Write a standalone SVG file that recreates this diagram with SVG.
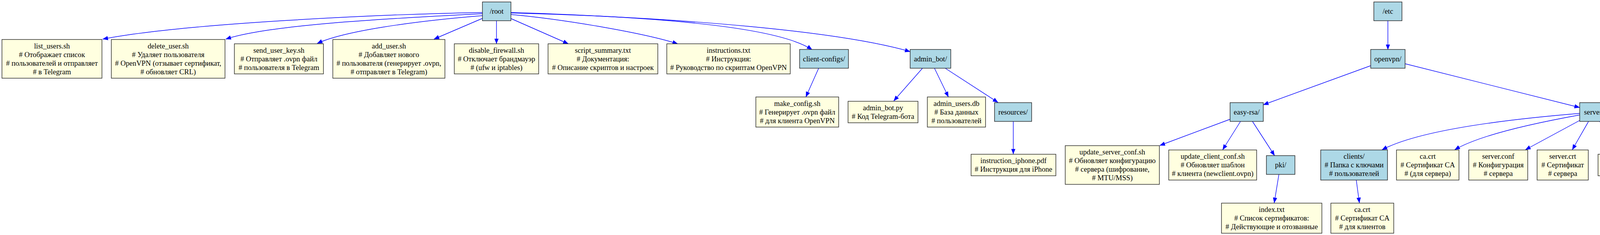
<svg xmlns="http://www.w3.org/2000/svg" width="5003" height="601" viewBox="0 0 5003 601">
<style>
.f{fill:#ffffe0;stroke:#222;stroke-width:1.4}
.d{fill:#add8e6;stroke:#222;stroke-width:1.4}
text{font-family:"Liberation Serif","Times New Roman",serif;font-size:18.67px;text-anchor:middle;fill:#000}
.e{fill:none;stroke:#0000ff;stroke-width:1.4}
</style>
<defs>
<marker id="ah" markerUnits="userSpaceOnUse" markerWidth="14" markerHeight="11" viewBox="0 0 14 11" refX="13.5" refY="5.5" orient="auto">
<path d="M0,0 L14,5.5 L0,11 z" fill="#0000ff"/>
</marker>
</defs>
<rect width="5003" height="601" fill="#fff"/>
<g id="edges">
<path class="e" marker-end="url(#ah)" d="M1235,32 C1000,36 480,58 263,100"/>
<path class="e" marker-end="url(#ah)" d="M1235,35 C1050,45 700,60 578,100"/>
<path class="e" marker-end="url(#ah)" d="M1235,40 C1050,55 880,80 812,111"/>
<path class="e" marker-end="url(#ah)" d="M1235,47 L1111,100"/>
<path class="e" marker-end="url(#ah)" d="M1271,53 L1271,112"/>
<path class="e" marker-end="url(#ah)" d="M1307,47 L1455,112"/>
<path class="e" marker-end="url(#ah)" d="M1307,37 C1450,50 1650,85 1735,112"/>
<path class="e" marker-end="url(#ah)" d="M1307,32 C1750,45 2000,75 2079,127"/>
<path class="e" marker-end="url(#ah)" d="M1307,33 C1750,45 2150,80 2330,132"/>
<path class="e" marker-end="url(#ah)" d="M2096,174 L2063,248"/>
<path class="e" marker-end="url(#ah)" d="M2362,174 L2288,258"/>
<path class="e" marker-end="url(#ah)" d="M2392,174 L2428,248"/>
<path class="e" marker-end="url(#ah)" d="M2419,174 L2555,262"/>
<path class="e" marker-end="url(#ah)" d="M2594,310 L2594,394"/>
<path class="e" marker-end="url(#ah)" d="M3553,53 L3553,127"/>
<path class="e" marker-end="url(#ah)" d="M3509,168 L3234,268"/>
<path class="e" marker-end="url(#ah)" d="M3597,163 L4044,275"/>
<path class="e" marker-end="url(#ah)" d="M3149,305 L2969,372"/>
<path class="e" marker-end="url(#ah)" d="M3176,310 L3130,383"/>
<path class="e" marker-end="url(#ah)" d="M3206,310 L3263,398"/>
<path class="e" marker-end="url(#ah)" d="M3274,446 L3262,519"/>
<path class="e" marker-end="url(#ah)" d="M4044,290 C3800,310 3620,340 3538,383"/>
<path class="e" marker-end="url(#ah)" d="M4044,294 C3900,320 3780,350 3724,383"/>
<path class="e" marker-end="url(#ah)" d="M4044,308 L3905,383"/>
<path class="e" marker-end="url(#ah)" d="M4067,310 L4025,383"/>
<path class="e" marker-end="url(#ah)" d="M4095,310 L4143,394"/>
<path class="e" marker-end="url(#ah)" d="M4117,303 L4267,383"/>
<path class="e" marker-end="url(#ah)" d="M4117,293 C4300,310 4420,355 4466,383"/>
<path class="e" marker-end="url(#ah)" d="M4117,290 C4380,300 4580,355 4631,383"/>
<path class="e" marker-end="url(#ah)" d="M4117,288 C4450,292 4720,340 4822,383"/>
<path class="e" marker-end="url(#ah)" d="M3472,460 L3480,519"/>
</g>
<g id="root"><rect class="d" x="1235" y="5" width="73" height="48"/><text x="1271.5" y="35">/root</text></g>
<g id="etc"><rect class="d" x="3517" y="5" width="72" height="48"/><text x="3553" y="35">/etc</text></g>
<g id="list_users"><rect class="f" x="5" y="101" width="256" height="99"/><text x="133" y="123.5">list_users.sh</text><text x="133" y="145.5"># Отображает список</text><text x="133" y="167.5"># пользователей и отправляет</text><text x="133" y="189.5"># в Telegram</text></g>
<g id="delete_user"><rect class="f" x="285" y="101" width="291" height="99"/><text x="430.5" y="123.5">delete_user.sh</text><text x="430.5" y="145.5"># Удаляет пользователя</text><text x="430.5" y="167.5"># OpenVPN (отзывает сертификат,</text><text x="430.5" y="189.5"># обновляет CRL)</text></g>
<g id="send_user_key"><rect class="f" x="600" y="112" width="228" height="77"/><text x="714" y="134.5">send_user_key.sh</text><text x="714" y="156.5"># Отправляет .ovpn файл</text><text x="714" y="178.5"># пользователя в Telegram</text></g>
<g id="add_user"><rect class="f" x="852" y="101" width="287" height="99"/><text x="995.5" y="123.5">add_user.sh</text><text x="995.5" y="145.5"># Добавляет нового</text><text x="995.5" y="167.5"># пользователя (генерирует .ovpn,</text><text x="995.5" y="189.5"># отправляет в Telegram)</text></g>
<g id="disable_firewall"><rect class="f" x="1163" y="112" width="216" height="77"/><text x="1271" y="134.5">disable_firewall.sh</text><text x="1271" y="156.5"># Отключает брандмауэр</text><text x="1271" y="178.5"># (ufw и iptables)</text></g>
<g id="script_summary"><rect class="f" x="1403" y="112" width="281" height="77"/><text x="1543.5" y="134.5">script_summary.txt</text><text x="1543.5" y="156.5"># Документация:</text><text x="1543.5" y="178.5"># Описание скриптов и настроек</text></g>
<g id="instructions"><rect class="f" x="1707" y="112" width="316" height="77"/><text x="1865" y="134.5">instructions.txt</text><text x="1865" y="156.5"># Инструкция:</text><text x="1865" y="178.5"># Руководство по скриптам OpenVPN</text></g>
<g id="client_configs"><rect class="d" x="2047" y="126.5" width="125" height="48"/><text x="2109.5" y="156.5">client-configs/</text></g>
<g id="admin_bot"><rect class="d" x="2330" y="126.5" width="104" height="48"/><text x="2382" y="156.5">admin_bot/</text></g>
<g id="openvpn"><rect class="d" x="3509" y="126.5" width="88" height="48"/><text x="3553" y="156.5">openvpn/</text></g>
<g id="make_config"><rect class="f" x="1935" y="248" width="212" height="77"/><text x="2041" y="270.5">make_config.sh</text><text x="2041" y="292.5"># Генерирует .ovpn файл</text><text x="2041" y="314.5"># для клиента OpenVPN</text></g>
<g id="admin_bot_py"><rect class="f" x="2171" y="259" width="179" height="55"/><text x="2260.5" y="281.5">admin_bot.py</text><text x="2260.5" y="303.5"># Код Telegram-бота</text></g>
<g id="admin_users_db"><rect class="f" x="2374" y="248" width="149" height="77"/><text x="2448.5" y="270.5">admin_users.db</text><text x="2448.5" y="292.5"># База данных</text><text x="2448.5" y="314.5"># пользователей</text></g>
<g id="resources"><rect class="d" x="2546" y="262.5" width="95" height="48"/><text x="2593.5" y="292.5">resources/</text></g>
<g id="easy_rsa"><rect class="d" x="3149" y="262.5" width="85" height="48"/><text x="3191.5" y="292.5">easy-rsa/</text></g>
<g id="server"><rect class="d" x="4044" y="262.5" width="73" height="48"/><text x="4080.5" y="292.5">server/</text></g>
<g id="instruction_iphone"><rect class="f" x="2486" y="394.5" width="217" height="55"/><text x="2594.5" y="417">instruction_iphone.pdf</text><text x="2594.5" y="439"># Инструкция для iPhone</text></g>
<g id="update_server_conf"><rect class="f" x="2727" y="372.5" width="241" height="99"/><text x="2847.5" y="395">update_server_conf.sh</text><text x="2847.5" y="417"># Обновляет конфигурацию</text><text x="2847.5" y="439"># сервера (шифрование,</text><text x="2847.5" y="461"># MTU/MSS)</text></g>
<g id="update_client_conf"><rect class="f" x="2992" y="383.5" width="225" height="77"/><text x="3104.5" y="406">update_client_conf.sh</text><text x="3104.5" y="428"># Обновляет шаблон</text><text x="3104.5" y="450"># клиента (newclient.ovpn)</text></g>
<g id="pki"><rect class="d" x="3242" y="398" width="73" height="48"/><text x="3278.5" y="428">pki/</text></g>
<g id="clients"><rect class="d" x="3381" y="383.5" width="171" height="77"/><text x="3466.5" y="406">clients/</text><text x="3466.5" y="428"># Папка с ключами</text><text x="3466.5" y="450"># пользователей</text></g>
<g id="ca_crt"><rect class="f" x="3575" y="383.5" width="160" height="77"/><text x="3655" y="406">ca.crt</text><text x="3655" y="428"># Сертификат CA</text><text x="3655" y="450"># (для сервера)</text></g>
<g id="server_conf"><rect class="f" x="3760" y="383.5" width="151" height="77"/><text x="3835.5" y="406">server.conf</text><text x="3835.5" y="428"># Конфигурация</text><text x="3835.5" y="450"># сервера</text></g>
<g id="server_crt"><rect class="f" x="3935" y="383.5" width="131" height="77"/><text x="4000.5" y="406">server.crt</text><text x="4000.5" y="428"># Сертификат</text><text x="4000.5" y="450"># сервера</text></g>
<g id="server_key"><rect class="f" x="4091" y="394.5" width="143" height="55"/><text x="4162.5" y="417">server.key</text><text x="4162.5" y="439"># Ключ сервера</text></g>
<g id="dh_pem"><rect class="f" x="4259" y="383.5" width="175" height="77"/><text x="4346.5" y="406">dh.pem</text><text x="4346.5" y="428"># Параметры</text><text x="4346.5" y="450"># Диффи-Хеллмана</text></g>
<g id="ta_key"><rect class="f" x="4458" y="383.5" width="139" height="77"/><text x="4527.5" y="406">ta.key</text><text x="4527.5" y="428"># Ключ TLS</text><text x="4527.5" y="450"># (для защиты)</text></g>
<g id="newclient_ovpn"><rect class="f" x="4621" y="383.5" width="162" height="77"/><text x="4702" y="406">newclient.ovpn</text><text x="4702" y="428"># Шаблон для</text><text x="4702" y="450"># новых клиентов</text></g>
<g id="crl_pem"><rect class="f" x="4807" y="383.5" width="191" height="77"/><text x="4902.5" y="406">crl.pem</text><text x="4902.5" y="428"># Список отозванных</text><text x="4902.5" y="450"># сертификатов</text></g>
<g id="index_txt"><rect class="f" x="3127" y="519.5" width="257" height="77"/><text x="3255.5" y="542">index.txt</text><text x="3255.5" y="564"># Список сертификатов:</text><text x="3255.5" y="586"># Действующие и отозванные</text></g>
<g id="clients_ca_crt"><rect class="f" x="3407" y="519.5" width="161" height="77"/><text x="3487.5" y="542">ca.crt</text><text x="3487.5" y="564"># Сертификат CA</text><text x="3487.5" y="586"># для клиентов</text></g>
</svg>
